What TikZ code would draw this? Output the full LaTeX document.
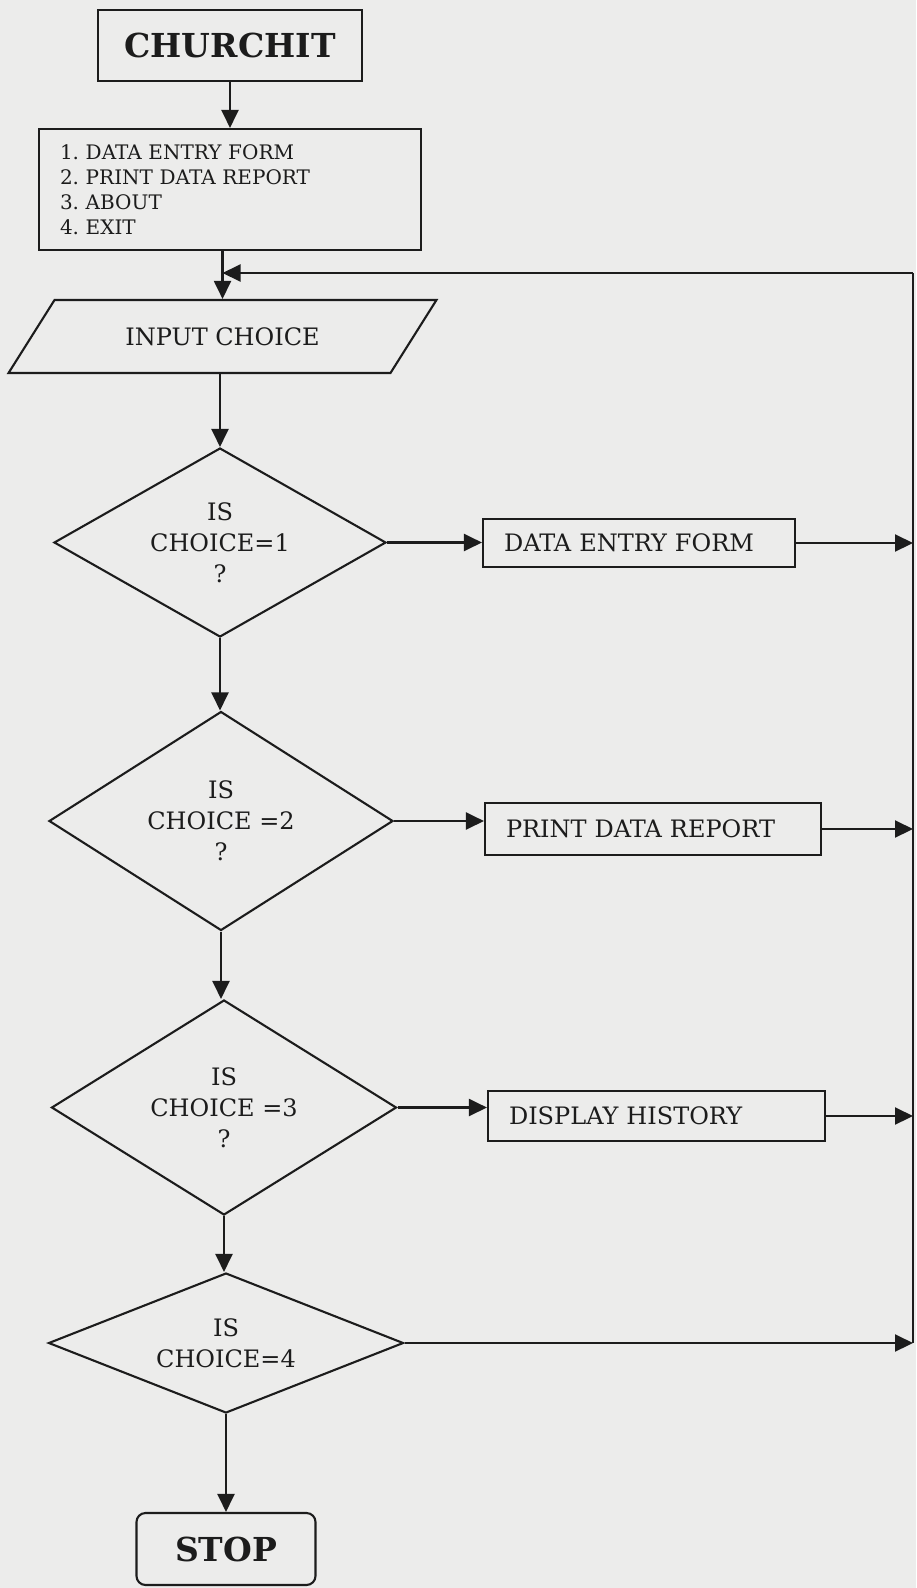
\documentclass[tikz,border=0pt]{standalone}
\usepackage{fontspec}
\setmainfont{DejaVu Serif}
\frenchspacing
\usetikzlibrary{shapes.geometric,arrows.meta}
\definecolor{paper}{RGB}{236,236,235}
\definecolor{ink}{RGB}{28,28,28}
\tikzset{
  base/.style={draw=ink, line width=2.1pt, text=ink, inner sep=0pt},
  box/.style={base, rectangle, align=center},
  pbox/.style={base, rectangle, inner xsep=21pt, align=left, font=\fontsize{24}{31}\selectfont},
  io/.style={base, trapezium, trapezium left angle=34.3, trapezium right angle=145.7,
    trapezium stretches=true, font=\fontsize{24}{31}\selectfont},
  dec/.style={base, diamond, align=center, font=\fontsize{24}{31}\selectfont},
  conn/.style={draw=ink, line width=2.1pt},
  arr/.style={conn, -{Triangle[length=18pt,width=17pt]}},
  bigbold/.style={font=\fontsize{33}{38}\selectfont\bfseries}
}
\begin{document}
\begin{tikzpicture}[x=1pt,y=-1pt]
\fill[paper] (0,0) rectangle (916,1588);
\useasboundingbox (0,0) rectangle (916,1588);

\node[box, bigbold, minimum width=264, minimum height=71] (start) at (230,45.5) {CHURCHIT};
\node[box, align=left, font=\fontsize{20}{25}\selectfont, text width=340, inner xsep=21pt,
  minimum height=121] (menu) at (230,189.5)
  {1. DATA ENTRY FORM\\2. PRINT DATA REPORT\\3. ABOUT\\4. EXIT};
\node[io, minimum width=429, minimum height=73] (inp) at (222.5,336.5) {INPUT CHOICE};

\node[dec, minimum width=332, minimum height=189, aspect=1.76] (d1) at (220,542.5) {IS\\CHOICE=1\\?};
\node[dec, minimum width=344, minimum height=219, aspect=1.57] (d2) at (221,821) {IS\\CHOICE =2\\?};
\node[dec, minimum width=345, minimum height=215, aspect=1.6] (d3) at (224,1107.5) {IS\\CHOICE =3\\?};
\node[dec, minimum width=355, minimum height=140, aspect=2.54] (d4) at (226,1343) {IS\\CHOICE=4};

\node[pbox, text width=270, minimum height=48] (def) at (639,543) {DATA ENTRY FORM};
\node[pbox, text width=294, minimum height=52] (pdr) at (653,829) {PRINT DATA REPORT};
\node[pbox, text width=295, minimum height=50] (dh) at (656.5,1116) {DISPLAY HISTORY};

\node[box, bigbold, rounded corners=9pt, minimum width=179, minimum height=72] (stop) at (226,1549) {STOP};

\coordinate (fbtop) at (913,273);
\coordinate (fbbot) at (913,1343);

\draw[arr] (start.south) -- (menu.north);
\draw[arr] (menu.south -| inp.north) -- (inp.north);
\draw[conn] (fbtop) -- (fbbot);
\draw[arr] (fbtop) -- (fbtop -| inp.north);
\draw[arr] (inp.south -| d1.north) -- (d1.north);
\draw[arr] (d1.south) -- (d1.south |- d2.north);
\draw[arr] (d2.south) -- (d2.south |- d3.north);
\draw[arr] (d3.south) -- (d3.south |- d4.north);
\draw[arr] (d4.south) -- (d4.south |- stop.north);

\draw[arr] (d1.east) -- (d1.east -| def.west);
\draw[arr] (d2.east) -- (d2.east -| pdr.west);
\draw[arr] (d3.east) -- (d3.east -| dh.west);
\draw[arr] (def.east) -- (def.east -| fbtop);
\draw[arr] (pdr.east) -- (pdr.east -| fbtop);
\draw[arr] (dh.east) -- (dh.east -| fbtop);
\draw[arr] (d4.east) -- (fbbot);
\end{tikzpicture}
\end{document}
